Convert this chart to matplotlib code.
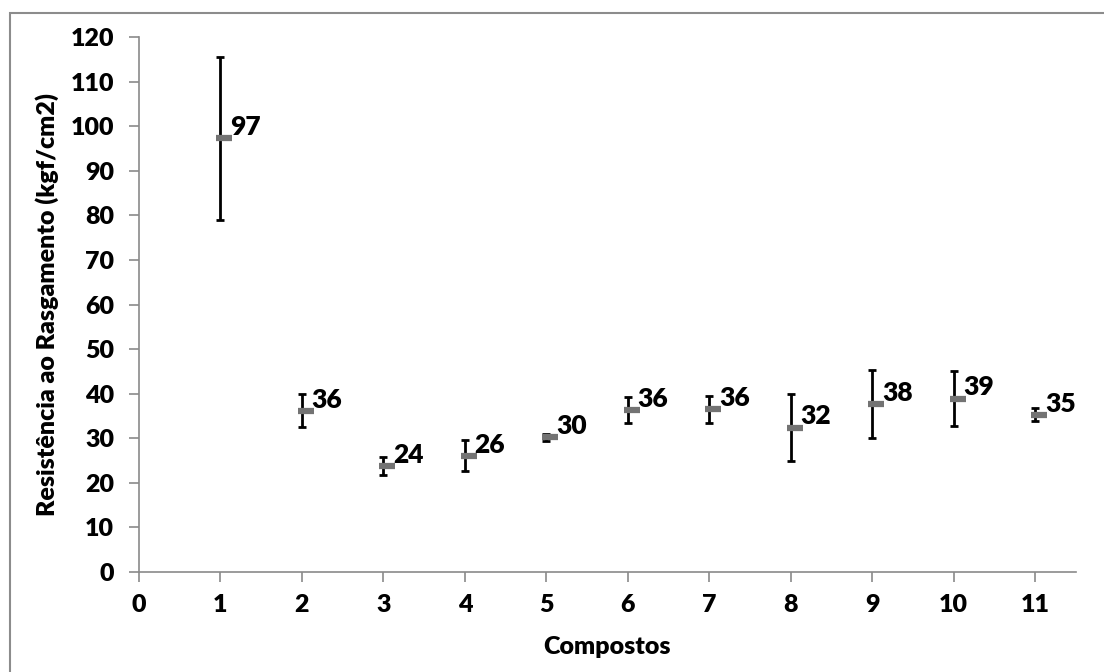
import matplotlib

matplotlib.use("Agg")
import matplotlib.pyplot as plt  # noqa: E402
import matplotlib.transforms as mtransforms  # noqa: E402
from matplotlib.patches import Rectangle  # noqa: E402

plt.rcParams["font.family"] = ["Lato", "DejaVu Sans"]

# data
compostos = [1, 2, 3, 4, 5, 6, 7, 8, 9, 10, 11]
resistencia = [97.3, 36.2, 23.8, 26.1, 30.2, 36.4, 36.5, 32.4, 37.6, 38.9, 35.3]
desvio = [18.3, 3.7, 2.0, 3.4, 0.8, 2.9, 3.0, 7.6, 7.6, 6.1, 1.5]
rotulos = ["97", "36", "24", "26", "30", "36", "36", "32", "38", "39", "35"]
x_ticks = list(range(0, 12))
y_ticks = list(range(0, 121, 10))

GRAY = "#8a8a8a"

fig = plt.figure(figsize=(11.04, 6.72), dpi=100)
ax = fig.add_axes([0.1259, 0.1488, 0.8487, 0.7961])

# outer frame of the chart area (runs off the right and bottom edges)
fig.patches.append(Rectangle((0.0091, -0.05), 1.1, 1.0307, transform=fig.transFigure,
                             fill=False, edgecolor="#8c8c8c", linewidth=1.5))

ax.errorbar(compostos, resistencia, yerr=desvio, fmt="none", ecolor="black",
            elinewidth=2, capsize=2.6, capthick=2, zorder=2)

# Excel-style dash markers, nudged slightly right of the bar
shift = mtransforms.ScaledTranslation(4 / 100, 0, fig.dpi_scale_trans)
ax.plot(compostos, resistencia, linestyle="none", marker="_", markersize=12,
        markeredgewidth=4.5, color="#737373", transform=ax.transData + shift, zorder=3)

for x, y, lab in zip(compostos, resistencia, rotulos):
    ax.annotate(lab, (x, y), xytext=(7, 8), textcoords="offset points",
                ha="left", va="center", fontsize=19, fontweight="heavy", color="black")

ax.set_xlim(0, 11.5)
ax.set_ylim(0, 120)
ax.set_xticks(x_ticks)
ax.set_yticks(y_ticks)
ax.tick_params(axis="both", direction="out", length=7, width=1.2, color=GRAY,
               labelsize=18)
ax.tick_params(axis="x", pad=9)
ax.tick_params(axis="y", pad=11)
for lab in ax.get_xticklabels() + ax.get_yticklabels():
    lab.set_fontweight("heavy")

for side in ("top", "right"):
    ax.spines[side].set_visible(False)
for side in ("left", "bottom"):
    ax.spines[side].set_color(GRAY)
    ax.spines[side].set_linewidth(1.2)

ax.set_xlabel("Compostos", fontsize=18, fontweight="heavy", labelpad=14)
ax.set_ylabel("Resistência ao Rasgamento (kgf/cm2)", fontsize=18, fontweight="heavy",
              labelpad=8)

fig.savefig("out.png", dpi=100)
plt.close(fig)
